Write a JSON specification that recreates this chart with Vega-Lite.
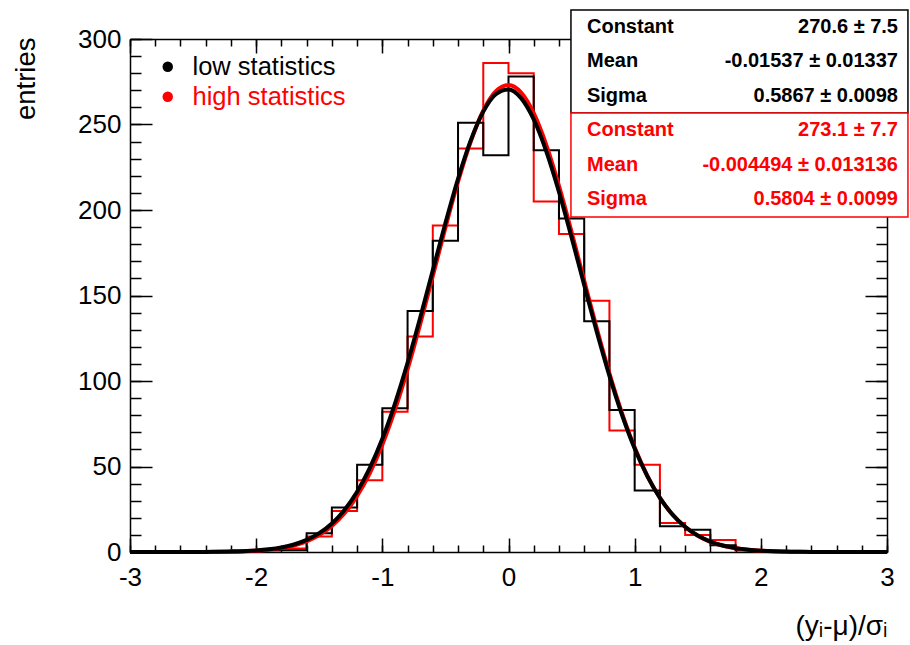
{
  "$schema": "https://vega.github.io/schema/vega-lite/v6.json",
  "width": 757,
  "height": 513,
  "autosize": {"type": "none"},
  "padding": {"left": 130, "top": 39, "right": 23, "bottom": 93},
  "background": "white",
  "config": {"view": {"stroke": null}, "font": "Liberation Sans", "axis": {"grid": false}},
  "datasets": {
    "low": [
      {"x": -3.0, "n": 0}, {"x": -2.8, "n": 0}, {"x": -2.6, "n": 0}, {"x": -2.4, "n": 0}, {"x": -2.2, "n": 0},
      {"x": -2.0, "n": 1}, {"x": -1.8, "n": 1}, {"x": -1.6, "n": 11}, {"x": -1.4, "n": 26}, {"x": -1.2, "n": 51},
      {"x": -1.0, "n": 84}, {"x": -0.8, "n": 141}, {"x": -0.6, "n": 182}, {"x": -0.4, "n": 251}, {"x": -0.2, "n": 232},
      {"x": 0.0, "n": 278}, {"x": 0.2, "n": 235}, {"x": 0.4, "n": 195}, {"x": 0.6, "n": 135}, {"x": 0.8, "n": 83},
      {"x": 1.0, "n": 36}, {"x": 1.2, "n": 15}, {"x": 1.4, "n": 13}, {"x": 1.6, "n": 4}, {"x": 1.8, "n": 1},
      {"x": 2.0, "n": 0}, {"x": 2.2, "n": 0}, {"x": 2.4, "n": 0}, {"x": 2.6, "n": 0}, {"x": 2.8, "n": 0},
      {"x": 3.0, "n": 0}
    ],
    "high": [
      {"x": -3.0, "n": 0}, {"x": -2.8, "n": 0}, {"x": -2.6, "n": 0}, {"x": -2.4, "n": 0}, {"x": -2.2, "n": 1},
      {"x": -2.0, "n": 1}, {"x": -1.8, "n": 2}, {"x": -1.6, "n": 9}, {"x": -1.4, "n": 24}, {"x": -1.2, "n": 42},
      {"x": -1.0, "n": 82}, {"x": -0.8, "n": 126}, {"x": -0.6, "n": 191}, {"x": -0.4, "n": 236}, {"x": -0.2, "n": 286},
      {"x": 0.0, "n": 280}, {"x": 0.2, "n": 205}, {"x": 0.4, "n": 186}, {"x": 0.6, "n": 147}, {"x": 0.8, "n": 71},
      {"x": 1.0, "n": 51}, {"x": 1.2, "n": 17}, {"x": 1.4, "n": 10}, {"x": 1.6, "n": 7}, {"x": 1.8, "n": 1},
      {"x": 2.0, "n": 0}, {"x": 2.2, "n": 0}, {"x": 2.4, "n": 0}, {"x": 2.6, "n": 0}, {"x": 2.8, "n": 0},
      {"x": 3.0, "n": 0}
    ],
    "fitlow": [
      {"x": -3.0, "f": 0}, {"x": -2.9, "f": 0}, {"x": -2.8, "f": 0}, {"x": -2.7, "f": 0.01}, {"x": -2.6, "f": 0.02},
      {"x": -2.5, "f": 0.03}, {"x": -2.4, "f": 0.07}, {"x": -2.3, "f": 0.14}, {"x": -2.2, "f": 0.26}, {"x": -2.1, "f": 0.49},
      {"x": -2.0, "f": 0.89}, {"x": -1.9, "f": 1.56}, {"x": -1.8, "f": 2.65}, {"x": -1.7, "f": 4.39}, {"x": -1.6, "f": 7.05},
      {"x": -1.5, "f": 11.02}, {"x": -1.4, "f": 16.71}, {"x": -1.3, "f": 24.62}, {"x": -1.2, "f": 35.24}, {"x": -1.1, "f": 49.0},
      {"x": -1.0, "f": 66.18}, {"x": -0.9, "f": 86.83}, {"x": -0.8, "f": 110.65}, {"x": -0.7, "f": 136.99}, {"x": -0.6, "f": 164.7},
      {"x": -0.5, "f": 192.38}, {"x": -0.4, "f": 218.28}, {"x": -0.3, "f": 240.56}, {"x": -0.2, "f": 257.53}, {"x": -0.1, "f": 267.8},
      {"x": 0.0, "f": 270.51}, {"x": 0.1, "f": 265.42}, {"x": 0.2, "f": 252.97}, {"x": 0.3, "f": 234.2}, {"x": 0.4, "f": 210.61},
      {"x": 0.5, "f": 183.98}, {"x": 0.6, "f": 156.11}, {"x": 0.7, "f": 128.67}, {"x": 0.8, "f": 103.02}, {"x": 0.9, "f": 80.12},
      {"x": 1.0, "f": 60.52}, {"x": 1.1, "f": 44.42}, {"x": 1.2, "f": 31.66}, {"x": 1.3, "f": 21.92}, {"x": 1.4, "f": 14.74},
      {"x": 1.5, "f": 9.63}, {"x": 1.6, "f": 6.11}, {"x": 1.7, "f": 3.77}, {"x": 1.8, "f": 2.26}, {"x": 1.9, "f": 1.31},
      {"x": 2.0, "f": 0.74}, {"x": 2.1, "f": 0.41}, {"x": 2.2, "f": 0.22}, {"x": 2.3, "f": 0.11}, {"x": 2.4, "f": 0.06},
      {"x": 2.5, "f": 0.03}, {"x": 2.6, "f": 0.01}, {"x": 2.7, "f": 0.01}, {"x": 2.8, "f": 0}, {"x": 2.9, "f": 0},
      {"x": 3.0, "f": 0}
    ],
    "fithigh": [
      {"x": -3.0, "f": 0}, {"x": -2.9, "f": 0}, {"x": -2.8, "f": 0}, {"x": -2.7, "f": 0.01}, {"x": -2.6, "f": 0.01},
      {"x": -2.5, "f": 0.03}, {"x": -2.4, "f": 0.05}, {"x": -2.3, "f": 0.11}, {"x": -2.2, "f": 0.21}, {"x": -2.1, "f": 0.4},
      {"x": -2.0, "f": 0.74}, {"x": -1.9, "f": 1.32}, {"x": -1.8, "f": 2.28}, {"x": -1.7, "f": 3.83}, {"x": -1.6, "f": 6.24},
      {"x": -1.5, "f": 9.88}, {"x": -1.4, "f": 15.17}, {"x": -1.3, "f": 22.62}, {"x": -1.2, "f": 32.74}, {"x": -1.1, "f": 46.0},
      {"x": -1.0, "f": 62.73}, {"x": -0.9, "f": 83.06}, {"x": -0.8, "f": 106.76}, {"x": -0.7, "f": 133.2}, {"x": -0.6, "f": 161.34},
      {"x": -0.5, "f": 189.69}, {"x": -0.4, "f": 216.52}, {"x": -0.3, "f": 239.9}, {"x": -0.2, "f": 258.04}, {"x": -0.1, "f": 269.43},
      {"x": 0.0, "f": 273.09}, {"x": 0.1, "f": 268.71}, {"x": 0.2, "f": 256.67}, {"x": 0.3, "f": 237.99}, {"x": 0.4, "f": 214.21},
      {"x": 0.5, "f": 187.18}, {"x": 0.6, "f": 158.76}, {"x": 0.7, "f": 130.73}, {"x": 0.8, "f": 104.5}, {"x": 0.9, "f": 81.09},
      {"x": 1.0, "f": 61.08}, {"x": 1.1, "f": 44.67}, {"x": 1.2, "f": 31.71}, {"x": 1.3, "f": 21.85}, {"x": 1.4, "f": 14.61},
      {"x": 1.5, "f": 9.49}, {"x": 1.6, "f": 5.98}, {"x": 1.7, "f": 3.66}, {"x": 1.8, "f": 2.17}, {"x": 1.9, "f": 1.25},
      {"x": 2.0, "f": 0.7}, {"x": 2.1, "f": 0.38}, {"x": 2.2, "f": 0.2}, {"x": 2.3, "f": 0.1}, {"x": 2.4, "f": 0.05},
      {"x": 2.5, "f": 0.02}, {"x": 2.6, "f": 0.01}, {"x": 2.7, "f": 0}, {"x": 2.8, "f": 0}, {"x": 2.9, "f": 0},
      {"x": 3.0, "f": 0}
    ],
    "stats": [
      {"series": "low statistics", "param": "Constant", "value": "270.6 ± 7.5", "row": 0},
      {"series": "low statistics", "param": "Mean", "value": "-0.01537 ± 0.01337", "row": 1},
      {"series": "low statistics", "param": "Sigma", "value": "0.5867 ± 0.0098", "row": 2},
      {"series": "high statistics", "param": "Constant", "value": "273.1 ± 7.7", "row": 3},
      {"series": "high statistics", "param": "Mean", "value": "-0.004494 ± 0.013136", "row": 4},
      {"series": "high statistics", "param": "Sigma", "value": "0.5804 ± 0.0099", "row": 5}
    ]
  },
  "resolve": {"scale": {"y": "independent"}, "axis": {"x": "independent", "y": "independent"}},
  "layer": [
    {
      "data": {"name": "high"},
      "mark": {"type": "line", "interpolate": "step-after", "strokeWidth": 2},
      "encoding": {
        "x": {"field": "x", "type": "quantitative", "scale": {"domain": [-3, 3], "nice": false, "zero": false},
          "axis": {"orient": "bottom", "values": [-3, -2, -1, 0, 1, 2, 3], "ticks": false, "tickSize": 0,
            "labelFontSize": 26, "labelColor": "#000", "labelPadding": 12, "labelExpr": "'' + datum.value",
            "labelFlush": false, "labelOverlap": false, "domainColor": "#000", "domainWidth": 1.5,
            "title": "(yᵢ-μ)/σᵢ", "titleFontSize": 28, "titleFontWeight": "normal", "titleColor": "#000",
            "titleX": 757, "titleY": 82, "titleAlign": "right", "titleBaseline": "alphabetic"}},
        "y": {"field": "n", "type": "quantitative", "scale": {"domain": [0, 300], "nice": false},
          "axis": {"orient": "left", "values": [0, 50, 100, 150, 200, 250, 300], "ticks": false, "tickSize": 0,
            "labelFontSize": 26, "labelColor": "#000", "labelPadding": 9, "labelFlush": false, "labelOverlap": false,
            "domainColor": "#000", "domainWidth": 1.5,
            "title": "entries", "titleFontSize": 27.5, "titleFontWeight": "normal", "titleColor": "#000",
            "titleX": -96, "titleY": -2, "titleAlign": "right", "titleBaseline": "alphabetic", "titleAngle": -90}},
        "color": {"datum": "high statistics", "title": null,
          "scale": {"domain": ["low statistics", "high statistics"], "range": ["#000000", "#ff0000"]},
          "legend": {"orient": "none", "legendX": 25, "legendY": 15, "title": null, "symbolType": "circle",
            "symbolSize": 110, "labelFontSize": 25.5, "labelFont": "Liberation Sans", "rowPadding": 3,
            "labelOffset": 12, "padding": 0, "symbolStrokeWidth": 0,
            "encode": {
              "symbols": {"update": {"fill": {"scale": "color", "field": "value"}, "stroke": {"value": "transparent"}, "opacity": {"value": 1}}},
              "labels": {"update": {"fill": {"scale": "color", "field": "value"}}}
            }}}
      }
    },
    {
      "data": {"name": "low"},
      "mark": {"type": "line", "interpolate": "step-after", "strokeWidth": 2},
      "encoding": {
        "x": {"field": "x", "type": "quantitative",
          "axis": {"orient": "bottom", "values": [-3, -2, -1, 0, 1, 2, 3], "labels": false, "domain": false,
            "tickSize": -14, "tickColor": "#000", "tickWidth": 1.5, "title": null}},
        "y": {"field": "n", "type": "quantitative", "scale": {"domain": [0, 300], "nice": false},
          "axis": {"orient": "left", "values": [0, 50, 100, 150, 200, 250, 300], "labels": false, "domain": false,
            "tickSize": -22, "tickColor": "#000", "tickWidth": 1.5, "title": null}},
        "color": {"datum": "low statistics", "title": null}
      }
    },
    {
      "data": {"name": "fithigh"},
      "mark": {"type": "line", "interpolate": "monotone", "strokeWidth": 4},
      "encoding": {
        "x": {"field": "x", "type": "quantitative",
          "axis": {"orient": "bottom", "values": [-3, -2.8, -2.6, -2.4, -2.2, -2, -1.8, -1.6, -1.4, -1.2, -1, -0.8, -0.6, -0.4, -0.2, 0, 0.2, 0.4, 0.6, 0.8, 1, 1.2, 1.4, 1.6, 1.8, 2, 2.2, 2.4, 2.6, 2.8, 3],
            "labels": false, "domain": false, "tickSize": -7, "tickColor": "#000", "tickWidth": 1.5, "title": null}},
        "y": {"field": "f", "type": "quantitative", "scale": {"domain": [0, 300], "nice": false},
          "axis": {"orient": "left", "values": [0, 10, 20, 30, 40, 50, 60, 70, 80, 90, 100, 110, 120, 130, 140, 150, 160, 170, 180, 190, 200, 210, 220, 230, 240, 250, 260, 270, 280, 290, 300],
            "labels": false, "domain": false, "tickSize": -11, "tickColor": "#000", "tickWidth": 1.5, "title": null}},
        "color": {"datum": "high statistics", "title": null}
      }
    },
    {
      "data": {"name": "fitlow"},
      "mark": {"type": "line", "interpolate": "monotone", "strokeWidth": 4},
      "encoding": {
        "x": {"field": "x", "type": "quantitative",
          "axis": {"orient": "top", "values": [-3, -2, -1, 0, 1, 2, 3], "labels": false, "domain": true,
            "domainColor": "#000", "domainWidth": 1.5,
            "tickSize": -14, "tickColor": "#000", "tickWidth": 1.5, "title": null}},
        "y": {"field": "f", "type": "quantitative", "scale": {"domain": [0, 300], "nice": false},
          "axis": {"orient": "right", "values": [0, 50, 100, 150, 200, 250, 300], "labels": false, "domain": true,
            "domainColor": "#000", "domainWidth": 1.5,
            "tickSize": -22, "tickColor": "#000", "tickWidth": 1.5, "title": null}},
        "color": {"datum": "low statistics", "title": null}
      }
    },
    {
      "data": {"values": [{}]},
      "mark": {"type": "rect", "fill": "white", "stroke": "#000", "strokeWidth": 1.5},
      "encoding": {
        "x": {"datum": 0.495, "type": "quantitative",
          "axis": {"orient": "top", "values": [-3, -2.8, -2.6, -2.4, -2.2, -2, -1.8, -1.6, -1.4, -1.2, -1, -0.8, -0.6, -0.4, -0.2, 0, 0.2, 0.4, 0.6, 0.8, 1, 1.2, 1.4, 1.6, 1.8, 2, 2.2, 2.4, 2.6, 2.8, 3],
            "labels": false, "domain": false, "tickSize": -7, "tickColor": "#000", "tickWidth": 1.5, "title": null}},
        "x2": {"datum": 3.166},
        "y": {"datum": 317, "type": "quantitative", "scale": {"domain": [0, 300], "nice": false},
          "axis": {"orient": "right", "values": [0, 10, 20, 30, 40, 50, 60, 70, 80, 90, 100, 110, 120, 130, 140, 150, 160, 170, 180, 190, 200, 210, 220, 230, 240, 250, 260, 270, 280, 290, 300],
            "labels": false, "domain": false, "tickSize": -11, "tickColor": "#000", "tickWidth": 1.5, "title": null}},
        "y2": {"datum": 256.7}
      }
    },
    {
      "data": {"values": [{}]},
      "mark": {"type": "rect", "fill": "white", "stroke": "#ff0000", "strokeWidth": 1.5},
      "encoding": {
        "x": {"datum": 0.495, "type": "quantitative", "axis": null},
        "x2": {"datum": 3.166},
        "y": {"datum": 256.7, "type": "quantitative", "scale": {"domain": [0, 300], "nice": false}, "axis": null},
        "y2": {"datum": 195.9}
      }
    },
    {
      "data": {"name": "stats"},
      "mark": {"type": "text", "align": "left", "baseline": "middle", "fontWeight": "bold", "fontSize": 20, "font": "Liberation Sans"},
      "encoding": {
        "x": {"datum": 0.622, "type": "quantitative", "axis": null},
        "y": {"field": "row", "type": "quantitative", "scale": {"domain": [0, 5], "range": [-12, 160]}, "axis": null},
        "text": {"field": "param"},
        "color": {"field": "series", "type": "nominal", "title": null}
      }
    },
    {
      "data": {"name": "stats"},
      "mark": {"type": "text", "align": "right", "baseline": "middle", "fontWeight": "bold", "fontSize": 20, "font": "Liberation Sans"},
      "encoding": {
        "x": {"datum": 3.087, "type": "quantitative", "axis": null},
        "y": {"field": "row", "type": "quantitative", "scale": {"domain": [0, 5], "range": [-12, 160]}, "axis": null},
        "text": {"field": "value"},
        "color": {"field": "series", "type": "nominal", "title": null}
      }
    }
  ]
}
